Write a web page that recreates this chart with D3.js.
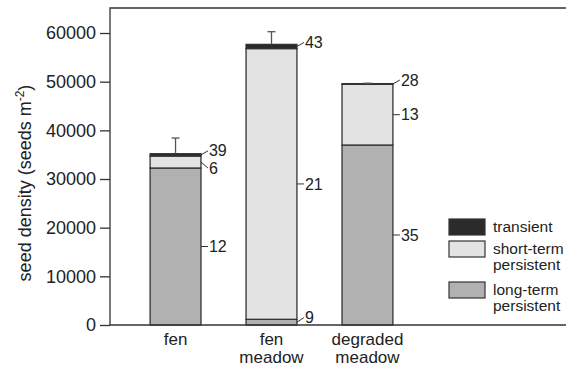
<!DOCTYPE html>
<html>
<head>
<meta charset="utf-8">
<script src="https://cdn.jsdelivr.net/npm/d3@7"></script>
<style>
  body { margin: 0; background: #fff; }
  svg { display: block; font-family: "Liberation Sans", Arial, sans-serif; }
</style>
</head>
<body>
<div id="chart"></div>
<script>
// data
let categories = ['fen', 'fen meadow', 'degraded meadow']
let longTerm = [32260, 1170, 36980]
let shortTerm = [2460, 55630, 12470]
let transient = [480, 860, 150]
let errorSE = [3220, 2610, 80] // error bar on the total
let longLabels = [12, 9, 35]
let shortLabels = [6, 21, 13]
let transientLabels = [39, 43, 28]
let yTicks = [0, 10000, 20000, 30000, 40000, 50000, 60000]
let seriesKeys = ['long', 'short', 'transient']
let seriesNames = ['transient', 'short-term persistent', 'long-term persistent']

let svgWidth = 566,
    svgHeight = 369,
    margin = { top: 8, left: 110, bottom: 44 },
    chartHeight = svgHeight - margin.top - margin.bottom

let colorMap = {
    transient: '#2b2b2b',
    short: '#e3e3e3',
    long: '#b1b1b1'
}
let labelMap = { long: longLabels, short: shortLabels, transient: transientLabels }

let svg = d3.select('#chart')
    .append('svg')
    .attr('width', svgWidth)
    .attr('height', svgHeight)

let table = categories.map((c, i) => ({
    cat: c, long: longTerm[i], short: shortTerm[i], transient: transient[i], se: errorSE[i], idx: i
}))

let x = d3.scaleBand()
    .domain(categories)
    .range([105, 438])
    .paddingInner(0.47)
    .paddingOuter(0.47)

let y = d3.scaleLinear()
    .domain([0, 65140])
    .range([margin.top + chartHeight, margin.top])

let stacked = d3.stack().keys(seriesKeys)(table)

// frame: top line and left axis (right side runs off the figure)
svg.append('path')
    .attr('d', `M${svgWidth + 5},${margin.top}H${margin.left}V${y(0)}`)
    .attr('fill', 'none')
    .attr('stroke', '#333')
    .attr('stroke-width', 1.3)

// y axis
let yAxis = svg.append('g')
    .attr('transform', `translate(${margin.left},0)`)
    .call(d3.axisLeft(y).tickValues(yTicks).tickSize(10).tickPadding(4).tickFormat(d3.format('d')))
yAxis.select('.domain').remove()
yAxis.selectAll('line').attr('stroke', '#333').attr('stroke-width', 1.3)
yAxis.selectAll('text')
    .attr('font-size', 18)
    .attr('fill', '#222')
    .attr('font-family', '"Liberation Sans", Arial, sans-serif')

// bars
let layers = svg.selectAll('.layer')
    .data(stacked)
    .enter().append('g')
    .attr('class', 'layer')
    .attr('fill', d => colorMap[d.key])

layers.selectAll('rect')
    .data(d => d)
    .enter().append('rect')
    .attr('x', d => x(d.data.cat))
    .attr('y', d => y(d[1]))
    .attr('width', x.bandwidth())
    .attr('height', d => y(d[0]) - y(d[1]))
    .attr('stroke', '#333')
    .attr('stroke-width', 1.3)

// error bars
let errG = svg.append('g')
    .attr('stroke', '#555')
    .attr('stroke-width', 1.3)
table.forEach(d => {
    let total = d.long + d.short + d.transient
    let cx = x(d.cat) + x.bandwidth() / 2
    errG.append('line')
        .attr('x1', cx).attr('x2', cx)
        .attr('y1', y(total)).attr('y2', y(total + d.se))
    errG.append('line')
        .attr('x1', cx - 4).attr('x2', cx + 4)
        .attr('y1', y(total + d.se)).attr('y2', y(total + d.se))
})

// bottom axis line
svg.append('line')
    .attr('x1', margin.left).attr('x2', svgWidth + 5)
    .attr('y1', y(0)).attr('y2', y(0))
    .attr('stroke', '#333')
    .attr('stroke-width', 1.3)

// species count labels next to each segment
let labG = svg.append('g')
stacked.forEach(layer => {
    layer.forEach((d, i) => {
        let x0 = x(d.data.cat) + x.bandwidth()
        let top = y(d[1]), bottom = y(d[0])
        let mid = (top + bottom) / 2
        let ly = mid
        if (bottom - top < 15) {
            // small segment: slanted leader
            if (layer.key === 'transient') ly = mid - 4
            else if (d[0] === 0) ly = mid - 4.5
            else ly = mid + 6
        }
        labG.append('line')
            .attr('x1', x0).attr('y1', mid)
            .attr('x2', x0 + 7).attr('y2', ly)
            .attr('stroke', '#333')
            .attr('stroke-width', 1)
        labG.append('text')
            .attr('x', x0 + 8)
            .attr('y', ly)
            .attr('dy', '0.35em')
            .attr('font-size', 16)
            .attr('fill', '#222')
            .text(labelMap[layer.key][i])
    })
})

// category labels
let catG = svg.append('g')
categories.forEach(c => {
    let t = catG.append('text')
        .attr('x', x(c) + x.bandwidth() / 2)
        .attr('y', 345)
        .attr('text-anchor', 'middle')
        .attr('font-size', 17)
        .attr('fill', '#222')
    c.split(' ').forEach((w, j) => {
        t.append('tspan')
            .attr('x', x(c) + x.bandwidth() / 2)
            .attr('dy', j === 0 ? 0 : 18)
            .text(w)
    })
})

// y axis title
let yTitle = svg.append('text')
    .attr('transform', 'translate(31,183) rotate(-90)')
    .attr('text-anchor', 'middle')
    .attr('font-size', 18)
    .attr('fill', '#222')
yTitle.append('tspan').text('seed density (seeds m')
yTitle.append('tspan').attr('dy', -7).attr('font-size', 12).text('-2')
yTitle.append('tspan').attr('dy', 7).text(')')

// legend
let legendKeys = ['transient', 'short', 'long']
let legendRows = [219, 241, 282]
let legend = svg.append('g')
    .attr('class', 'legend')
legendKeys.forEach((k, i) => {
    let ry = legendRows[i]
    legend.append('rect')
        .attr('x', 449)
        .attr('y', ry)
        .attr('width', 36)
        .attr('height', 16)
        .attr('fill', colorMap[k])
        .attr('stroke', '#333')
        .attr('stroke-width', 1.2)
    let words = seriesNames[i].split(' ')
    let t = legend.append('text')
        .attr('x', 493)
        .attr('y', ry + 13)
        .attr('font-size', 15.5)
        .attr('fill', '#222')
    words.forEach((w, j) => {
        t.append('tspan')
            .attr('x', 493)
            .attr('dy', j === 0 ? 0 : 15.5)
            .text(w)
    })
})
</script>
</body>
</html>
